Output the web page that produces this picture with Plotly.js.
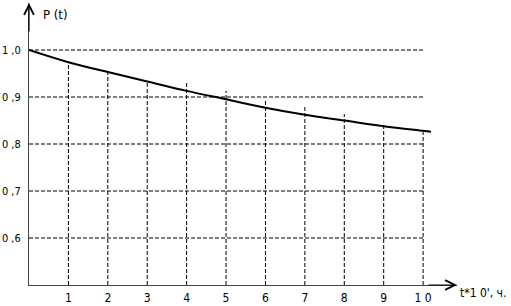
<!DOCTYPE html>
<html><head><meta charset="utf-8">
<script src="https://cdn.plot.ly/plotly-3.0.1.min.js"></script>
<style>html,body{margin:0;padding:0;background:#fff}#c{width:511px;height:306px}</style>
</head><body><div id="c"></div>
<script>
// data
const tVals = [0, 1, 2, 3, 4, 5, 6, 7, 8, 9, 10, 10.2];
const pVals = [1.0, 0.974, 0.953, 0.933, 0.913, 0.895, 0.877, 0.862, 0.850, 0.838, 0.828, 0.826];
const xTicks = [1, 2, 3, 4, 5, 6, 7, 8, 9, 10];
const xTickText = ['1', '2', '3', '4', '5', '6', '7', '8', '9', '1 0'];
const yTicks = [0.6, 0.7, 0.8, 0.9, 1.0];
const yTickText = ['0 ,6', '0 ,7', '0 ,8', '0 ,9', '1 ,0'];
const vGridTops = [0.975, 0.955, 0.934, 0.930, 0.913, 0.896, 0.879, 0.864, 0.845, 0.826];
const yBase = 0.5;
const xGridEnd = 10;
const xMax = 10.86, yMax = 1.1;

const FONT = 'DejaVu Sans Condensed, DejaVu Sans, sans-serif';
const dashStyle = {color: '#000', width: 1, dash: '4px,2px'};
const traces = [];
yTicks.forEach(y => traces.push({x: [0, xGridEnd], y: [y, y], mode: 'lines', line: dashStyle, hoverinfo: 'skip', showlegend: false}));
xTicks.forEach((x, i) => traces.push({x: [x, x], y: [yBase, vGridTops[i]], mode: 'lines', line: dashStyle, hoverinfo: 'skip', showlegend: false}));
traces.push({x: tVals, y: pVals, mode: 'lines', line: {color: '#000', width: 2, shape: 'spline'}, showlegend: false});

const layout = {
  width: 511, height: 306,
  margin: {l: 29, r: 54, t: 3, b: 21},
  paper_bgcolor: '#fff', plot_bgcolor: '#fff',
  showlegend: false,
  xaxis: {range: [0, xMax], showgrid: false, zeroline: false, showline: true, linecolor: '#444', linewidth: 1,
    tickvals: xTicks, ticktext: xTickText, ticks: '', ticklabelstandoff: 2,
    tickfont: {family: FONT, size: 12, color: '#000'}},
  yaxis: {range: [yBase, yMax], showgrid: false, zeroline: false, showline: true, linecolor: '#444', linewidth: 1,
    tickvals: yTicks, ticktext: yTickText, ticks: '', ticklabelstandoff: 5,
    tickfont: {family: FONT, size: 11, color: '#000'}},
  annotations: [
    {text: 'P (t)', xref: 'paper', yref: 'paper', x: 0.027, y: 1.0, xanchor: 'left', yanchor: 'top', showarrow: false, yshift: -2,
      font: {family: FONT, size: 13, color: '#000'}},
    {text: "t*1 0', ч.", xref: 'paper', yref: 'paper', x: 1.0, y: 0, xanchor: 'left', yanchor: 'top', showarrow: false, xshift: 1, yshift: 1,
      font: {family: FONT, size: 12, color: '#000'}},
    {text: '', x: 0, y: yMax, xref: 'x', yref: 'y', showarrow: true, ax: 0, ay: 30, axref: 'pixel', ayref: 'pixel',
      arrowhead: 5, arrowsize: 1.6, arrowwidth: 1.2, arrowcolor: '#000', standoff: 0},
    {text: '', x: xMax, y: yBase, xref: 'x', yref: 'y', showarrow: true, ax: -30, ay: 0, axref: 'pixel', ayref: 'pixel',
      arrowhead: 5, arrowsize: 1.6, arrowwidth: 1.2, arrowcolor: '#000', standoff: 0}
  ]
};
Plotly.newPlot('c', traces, layout, {staticPlot: true, displayModeBar: false});
</script></body></html>
